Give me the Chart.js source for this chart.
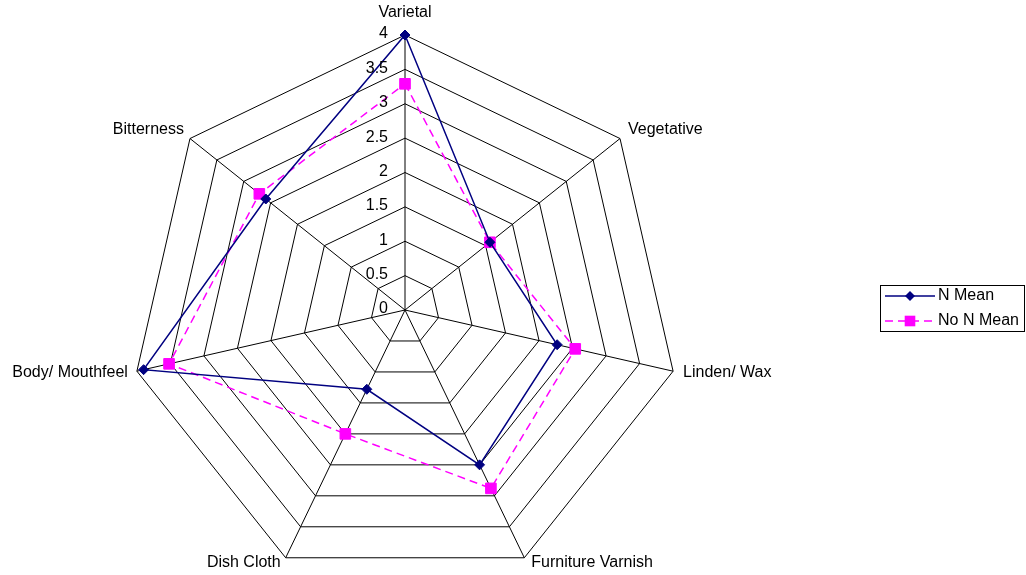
<!DOCTYPE html>
<html>
<head>
<meta charset="utf-8">
<script src="https://cdn.jsdelivr.net/npm/chart.js"></script>
<style>
  html, body { margin: 0; padding: 0; background: #fff; overflow: hidden; }
  canvas { display: block; }
</style>
</head>
<body>
<canvas id="c" width="1026" height="575"></canvas>
<script>
// ---- data ----
const categories = ["Varietal", "Vegetative", "Linden/ Wax", "Furniture Varnish", "Dish Cloth", "Body/ Mouthfeel", "Bitterness"];
const nMean = [4.0, 1.58, 2.27, 2.5, 1.28, 3.9, 2.59];
const noNMean = [3.29, 1.58, 2.54, 2.88, 2.0, 3.52, 2.71];
const tickLabels = ["0", "0.5", "1", "1.5", "2", "2.5", "3", "3.5", "4"];
const seriesNames = ["N Mean", "No N Mean"];

const FONT = '16px "Liberation Sans", Arial, sans-serif';
const NAVY = '#000080';
const MAGENTA = '#FF00FF';

// label placement: [dx, dy, align] relative to outer vertex
const labelPlacement = [
  [0, -22, 'center'],
  [8, -9, 'left'],
  [10, 1, 'left'],
  [7, 5, 'left'],
  [-5, 5, 'right'],
  [-9, 1, 'right'],
  [-6, -9, 'right']
];

const labelsPlugin = {
  id: 'customLabels',
  afterDraw(chart) {
    const s = chart.scales.r;
    const ctx = chart.ctx;
    ctx.save();
    ctx.font = FONT;
    ctx.fillStyle = '#000';
    ctx.textBaseline = 'middle';
    // point labels
    const outer = s.getDistanceFromCenterForValue(s.max);
    categories.forEach((c, i) => {
      const p = s.getPointPosition(i, outer);
      const [dx, dy, al] = labelPlacement[i];
      ctx.textAlign = al;
      ctx.fillText(c, p.x + dx, p.y + dy);
    });
    // tick labels
    ctx.textAlign = 'right';
    tickLabels.forEach((t) => {
      const d = s.getDistanceFromCenterForValue(parseFloat(t));
      ctx.fillText(t, s.xCenter - 17, s.yCenter - d - 1);
    });
    // legend
    const lx = 880.5, ly = 285.5, lw = 144, lh = 46;
    ctx.strokeStyle = '#000';
    ctx.lineWidth = 1;
    ctx.setLineDash([]);
    ctx.strokeRect(lx, ly, lw, lh);
    const rows = [296, 321];
    chart.data.datasets.forEach((ds, i) => {
      const y = rows[i];
      ctx.strokeStyle = ds.borderColor;
      ctx.lineWidth = ds.borderWidth;
      ctx.setLineDash(ds.borderDash || []);
      ctx.beginPath();
      ctx.moveTo(885, y);
      ctx.lineTo(935, y);
      ctx.stroke();
      ctx.setLineDash([]);
      ctx.fillStyle = ds.pointBackgroundColor;
      ctx.beginPath();
      if (ds.pointStyle === 'rectRot') {
        const r = ds.pointRadius;
        ctx.moveTo(910, y - r); ctx.lineTo(910 + r, y); ctx.lineTo(910, y + r); ctx.lineTo(910 - r, y);
        ctx.closePath();
      } else {
        const h = ds.pointRadius * Math.SQRT1_2;
        ctx.rect(910 - h, y - h, 2 * h, 2 * h);
      }
      ctx.fill();
      ctx.fillStyle = '#000';
      ctx.textAlign = 'left';
      ctx.fillText(ds.label, 938, y);
    });
    ctx.restore();
  }
};

new Chart(document.getElementById('c'), {
  type: 'radar',
  data: {
    labels: categories,
    datasets: [
      {
        label: seriesNames[0],
        data: nMean,
        borderColor: NAVY,
        backgroundColor: NAVY,
        borderWidth: 1.5,
        fill: false,
        tension: 0,
        pointStyle: 'rectRot',
        pointRadius: 5,
        pointBackgroundColor: NAVY,
        pointBorderColor: NAVY,
        pointBorderWidth: 1,
        clip: false
      },
      {
        label: seriesNames[1],
        data: noNMean,
        borderColor: MAGENTA,
        backgroundColor: MAGENTA,
        borderWidth: 1.5,
        borderDash: [8, 5],
        fill: false,
        tension: 0,
        pointStyle: 'rect',
        pointRadius: 7.5,
        pointBackgroundColor: MAGENTA,
        pointBorderColor: MAGENTA,
        pointBorderWidth: 1,
        clip: false
      }
    ]
  },
  options: {
    responsive: false,
    animation: false,
    devicePixelRatio: 1,
    plugins: { legend: { display: false }, tooltip: { enabled: false } },
    scales: {
      r: {
        min: 0,
        max: 4,
        startAngle: 0,
        ticks: { display: false, stepSize: 0.5 },
        grid: { color: '#000', lineWidth: 1, circular: false },
        angleLines: { display: true, color: '#000', lineWidth: 1 },
        pointLabels: { display: false },
        afterFit: (s) => { s.xCenter = 405; s.yCenter = 310; s.drawingArea = 275; }
      }
    }
  },
  plugins: [labelsPlugin]
});
</script>
</body>
</html>
